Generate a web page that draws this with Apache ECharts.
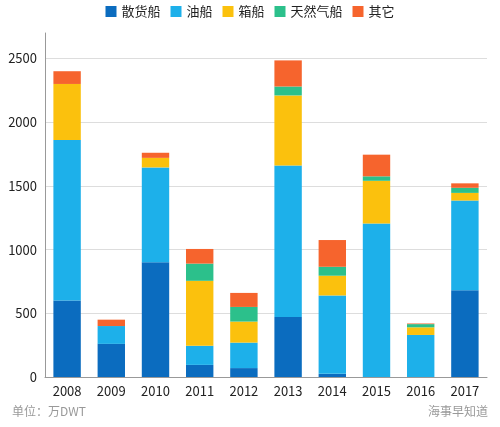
<!DOCTYPE html>
<html>
<head>
<meta charset="utf-8">
<script src="https://cdn.jsdelivr.net/npm/echarts@6/dist/echarts.min.js"></script>
<style>body{margin:0;background:#fff}#chart{width:500px;height:427px}</style>
</head>
<body>
<div id="chart"></div>
<script>
var years = ['2008','2009','2010','2011','2012','2013','2014','2015','2016','2017'];
var seriesNames = ['散货船','油船','箱船','天然气船','其它'];
var bulk  = [600, 260, 900, 95, 70, 470, 25, 0, 0, 680];
var oil   = [1260, 140, 745, 150, 200, 1190, 615, 1205, 330, 705];
var box   = [440, 0, 75, 510, 165, 550, 155, 335, 60, 60];
var gas   = [0, 0, 0, 135, 115, 70, 70, 35, 25, 40];
var other = [100, 50, 40, 115, 110, 205, 210, 170, 5, 35];
var colors = ['#0b6cbf','#1db0ea','#fbc10d','#2cc08b','#f6642d'];

var chart = echarts.init(document.getElementById('chart'));
var data = [bulk, oil, box, gas, other];
var series = [];
for (var i = 0; i < seriesNames.length; i++) {
    series.push({name: seriesNames[i], type: 'bar', stack: 'all', barWidth: '62%', data: data[i], itemStyle: {color: colors[i]}});
}
chart.setOption({
    animation: false,
    textStyle: {fontFamily: 'Noto Sans CJK SC'},
    legend: {top: 0, left: 'center', itemWidth: 11, itemHeight: 11, itemGap: 10,
        textStyle: {fontSize: 13, color: '#222'}, icon: 'rect'},
    grid: {left: 45, right: 13, top: 33, bottom: 50},
    xAxis: {type: 'category', data: years,
        axisLine: {lineStyle: {color: '#999'}}, axisTick: {show: false},
        axisLabel: {color: '#222', fontSize: 13}},
    yAxis: {type: 'value', min: 0, max: 2700, interval: 500,
        axisLine: {show: true, lineStyle: {color: '#999'}},
        axisLabel: {color: '#222', fontSize: 13, formatter: function (v) { return v % 500 === 0 ? v : ''; }},
        splitLine: {showMaxLine: false, lineStyle: {color: '#ddd'}}},
    graphic: [
        {type: 'text', left: 12, top: 405, style: {text: '单位：万DWT', fill: '#999', fontSize: 12, fontFamily: 'Noto Sans CJK SC'}},
        {type: 'text', right: 12, top: 405, style: {text: '海事早知道', fill: '#999', fontSize: 12, fontFamily: 'Noto Sans CJK SC'}}
    ],
    series: series
});
</script>
</body>
</html>
